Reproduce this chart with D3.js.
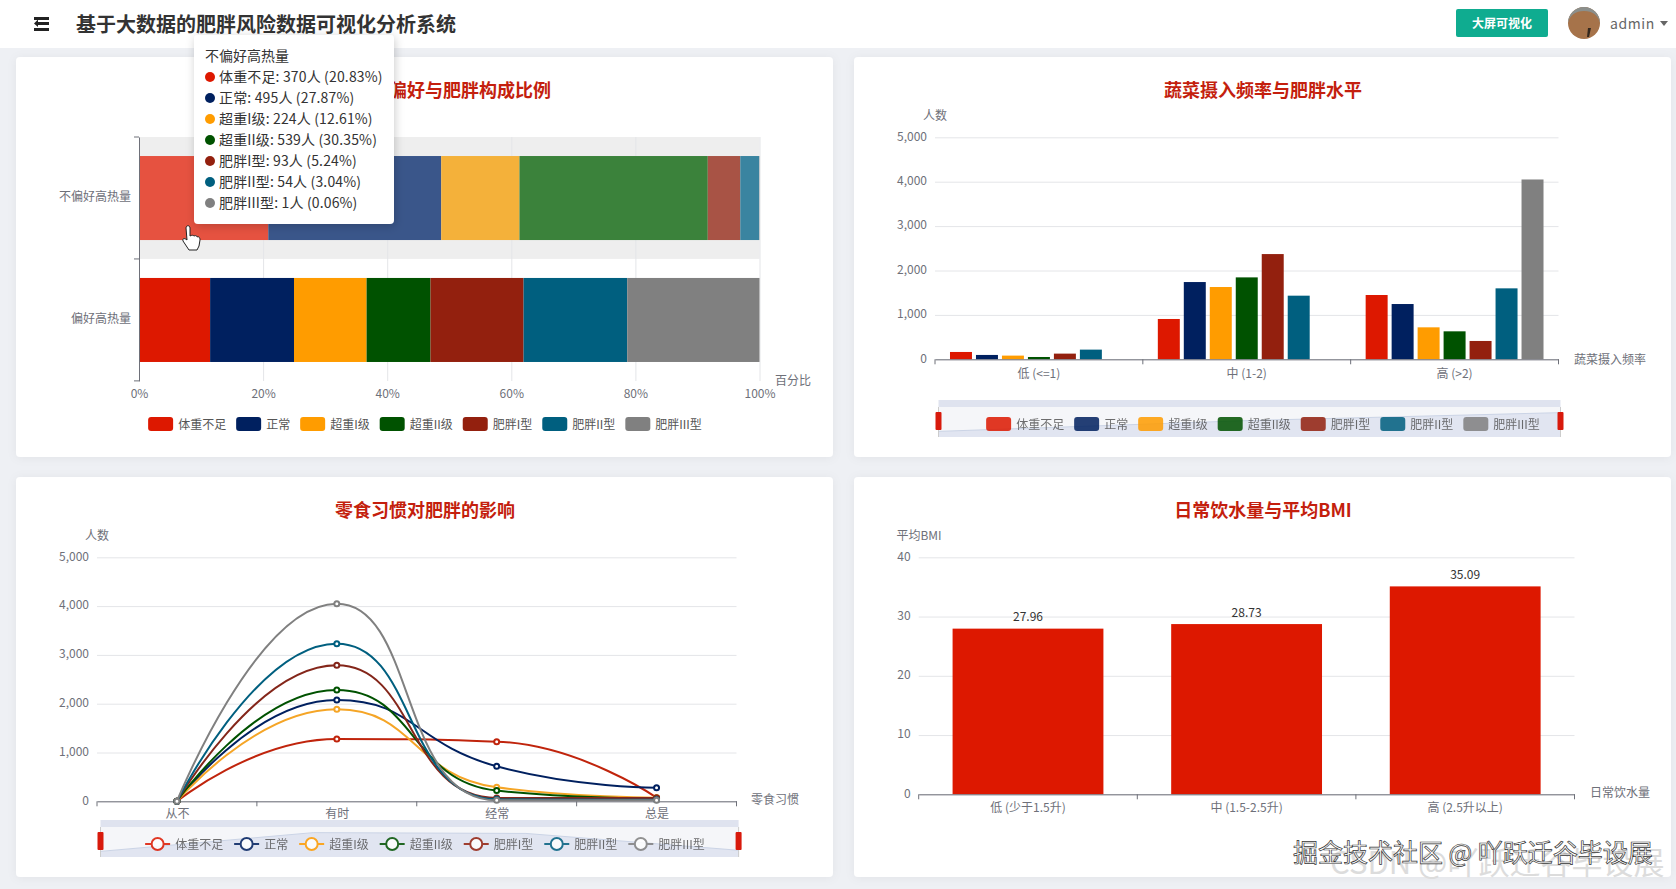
<!DOCTYPE html>
<html>
<head>
<meta charset="utf-8">
<title>肥胖风险数据可视化分析系统</title>
<script src="https://cdn.jsdelivr.net/npm/d3@7"></script>
<style>
  html, body { margin: 0; padding: 0; background: #eef0f4; overflow: hidden; }
  svg { display: block; }
  text { font-family: "Noto Sans CJK SC", "Noto Sans", sans-serif; transform: translateY(-1px); }
</style>
</head>
<body>
<script>
// Obesity levels, same order in every chart
var levels = ['体重不足', '正常', '超重I级', '超重II级', '肥胖I型', '肥胖II型', '肥胖III型'];
var levelColors = ['#dd1800', '#00205f', '#ff9c00', '#005200', '#93200e', '#005f7f', '#808080'];
var hoverColors = ['#e65240', '#3a568a', '#f4b13a', '#3b823b', '#a85345', '#3a84a0', '#a0a0a0'];
var lineColors = ['#c0240c', '#00205f', '#f5a526', '#005200', '#84261a', '#005f7f', '#808080'];

// Chart 1: high calorie preference, the first row comes from the tooltip
var calorieCats = ['不偏好高热量', '偏好高热量'];
var noPreferCounts = [370, 495, 224, 539, 93, 54, 1];
var preferPercents = [11.46, 13.52, 11.7, 10.3, 15.0, 16.7, 21.32];
var percentTicks = [0, 20, 40, 60, 80, 100];

// Chart 2: vegetable frequency
var vegCats = ['低 (<=1)', '中 (1-2)', '高 (>2)'];
var vegLow = [165, 98, 83, 52, 128, 218, 0];
var vegMid = [908, 1740, 1628, 1845, 2370, 1433, 0];
var vegHigh = [1448, 1245, 720, 630, 413, 1598, 4050];
var countTicks = [0, 1000, 2000, 3000, 4000, 5000];

// Chart 3: snack habit, one list per level
var snackCats = ['从不', '有时', '经常', '总是'];
var snackUnder = [0, 1277, 1222, 75];
var snackNormal = [0, 2076, 717, 280];
var snackOver1 = [0, 1885, 287, 75];
var snackOver2 = [0, 2281, 219, 60];
var snackObese1 = [0, 2787, 68, 68];
var snackObese2 = [0, 3231, 41, 30];
var snackObese3 = [0, 4050, 20, 20];

// Chart 4: water intake
var waterCats = ['低 (少于1.5升)', '中 (1.5-2.5升)', '高 (2.5升以上)'];
var waterBmi = [27.96, 28.73, 35.09];
var bmiTicks = [0, 10, 20, 30, 40];

var width = 1676;
var height = 889;
var axisGrey = '#6e7079';
var gridGrey = '#e4e5e8';
var titleRed = '#c41f0e';

var svg = d3.select('body').append('svg')
  .attr('width', width)
  .attr('height', height);

var defs = svg.append('defs');
defs.append('filter').attr('id', 'cardShadow')
  .attr('x', '-5%').attr('y', '-5%').attr('width', '110%').attr('height', '110%')
  .append('feDropShadow')
  .attr('dx', 0).attr('dy', 1).attr('stdDeviation', 5)
  .attr('flood-color', '#000').attr('flood-opacity', 0.05);
defs.append('filter').attr('id', 'tipShadow')
  .attr('x', '-10%').attr('y', '-10%').attr('width', '120%').attr('height', '120%')
  .append('feDropShadow')
  .attr('dx', 1).attr('dy', 2).attr('stdDeviation', 5)
  .attr('flood-color', '#000').attr('flood-opacity', 0.2);

svg.append('rect').attr('width', width).attr('height', height).attr('fill', '#eef0f4');

// ---- header ----
var header = svg.append('g');
header.append('rect').attr('width', width).attr('height', 48).attr('fill', '#fff');
header.selectAll('rect.menu')
  .data([17, 22, 28])
  .enter().append('rect')
  .attr('class', 'menu')
  .attr('x', function (d, i) { return i == 1 ? 38 : 34; })
  .attr('y', function (d) { return d; })
  .attr('width', function (d, i) { return i == 1 ? 11 : 15; })
  .attr('height', 3)
  .attr('fill', '#222');
header.append('path').attr('d', 'M38,19.5 L34,23.5 L38,27 Z').attr('fill', '#222');
header.append('text')
  .attr('x', 76).attr('y', 24)
  .attr('dominant-baseline', 'central')
  .attr('font-size', 20).attr('font-weight', 700).attr('fill', '#333')
  .text('基于大数据的肥胖风险数据可视化分析系统');
header.append('rect')
  .attr('x', 1456).attr('y', 9).attr('width', 92).attr('height', 28).attr('rx', 2)
  .attr('fill', '#0fac90');
header.append('text')
  .attr('x', 1502).attr('y', 23)
  .attr('text-anchor', 'middle').attr('dominant-baseline', 'central')
  .attr('font-size', 12).attr('font-weight', 700).attr('fill', '#fff')
  .text('大屏可视化');
header.append('circle').attr('cx', 1584).attr('cy', 23).attr('r', 16).attr('fill', '#a6734a');
header.append('path')
  .attr('d', 'M1568,23 A16,16 0 0 1 1600,23 Q1597,11 1584,11 Q1571,11 1568,23 Z')
  .attr('fill', '#8b8f8c');
header.append('path').attr('d', 'M1588,28 L1591,28 L1589,37 L1587,37 Z').attr('fill', '#33271d');
header.append('text')
  .attr('x', 1610).attr('y', 24)
  .attr('dominant-baseline', 'central')
  .attr('font-size', 14).attr('fill', '#666').attr('letter-spacing', 0.6)
  .text('admin');
header.append('path').attr('d', 'M1660,21 L1668,21 L1664,26 Z').attr('fill', '#666');

// ---- shared pieces ----
function addCard(x, y, title) {
  svg.append('rect')
    .attr('x', x).attr('y', y).attr('width', 817).attr('height', 400).attr('rx', 4)
    .attr('fill', '#fff')
    .attr('filter', 'url(#cardShadow)');
  svg.append('text')
    .attr('class', 'chart-title')
    .attr('x', x + 409).attr('y', y + 33)
    .attr('text-anchor', 'middle').attr('dominant-baseline', 'central')
    .attr('font-size', 18).attr('font-weight', 700).attr('fill', titleRed)
    .text(title);
}

function axisName(x, y, text, anchor) {
  svg.append('text')
    .attr('x', x).attr('y', y)
    .attr('text-anchor', anchor)
    .attr('dominant-baseline', 'central')
    .attr('font-size', 12).attr('fill', axisGrey)
    .text(text);
}

// value axis on the left, tick lines stretched into grid lines
function valueAxis(scale, ticks, left, right, format) {
  var g = svg.append('g')
    .attr('transform', 'translate(' + left + ',0)')
    .call(d3.axisLeft(scale).tickValues(ticks).tickSize(-(right - left)).tickPadding(8).tickFormat(format));
  g.select('.domain').remove();
  g.selectAll('line').attr('stroke', gridGrey);
  g.selectAll('text').attr('font-size', 12).attr('fill', axisGrey);
  g.attr('font-family', null);
  return g;
}

// category axis at the bottom, ticks on the band edges like the original
function categoryAxis(scale, y, padding) {
  var range = scale.range();
  var n = scale.domain().length;
  var g = svg.append('g')
    .attr('transform', 'translate(0,' + y + ')')
    .call(d3.axisBottom(scale).tickSize(0).tickPadding(padding));
  g.select('.domain').attr('stroke', axisGrey);
  g.selectAll('text').attr('font-size', 12).attr('fill', axisGrey);
  g.attr('font-family', null);
  g.selectAll('line.edge')
    .data(d3.range(n + 1))
    .enter().append('line')
    .attr('class', 'edge')
    .attr('x1', function (i) { return range[0] + i * (range[1] - range[0]) / n; })
    .attr('x2', function (i) { return range[0] + i * (range[1] - range[0]) / n; })
    .attr('y1', 0).attr('y2', 5)
    .attr('stroke', axisGrey);
  return g;
}

// legend laid out from measured text, centred on cx
function addLegend(cx, y, isLine, gap, opacity) {
  var g = svg.append('g').attr('opacity', opacity);
  var items = g.selectAll('g')
    .data(levels)
    .enter().append('g');
  items.append('text')
    .attr('x', 30).attr('y', 0)
    .attr('dominant-baseline', 'central')
    .attr('font-size', 12).attr('fill', '#555')
    .text(function (d) { return d; });
  var x = 0;
  items.each(function (d, i) {
    var item = d3.select(this);
    item.attr('transform', 'translate(' + x + ',' + y + ')');
    if (isLine) {
      item.append('line').attr('x1', 0).attr('x2', 25).attr('y1', 0).attr('y2', 0)
        .attr('stroke', levelColors[i]).attr('stroke-width', 2);
      item.append('circle').attr('cx', 12.5).attr('cy', 0).attr('r', 6)
        .attr('fill', '#fff').attr('stroke', levelColors[i]).attr('stroke-width', 2);
    } else {
      item.append('rect').attr('x', 0).attr('y', -7).attr('width', 25).attr('height', 14).attr('rx', 3)
        .attr('fill', levelColors[i]);
    }
    x += 30 + item.select('text').node().getComputedTextLength() + gap;
  });
  var total = x - gap;
  g.attr('transform', 'translate(' + (cx - total / 2) + ',0)');
}

// dataZoom strip, the shadow follows the first series
function addDataZoom(left, right, top, values) {
  var bandH = 7;
  var areaH = 30;
  var bottom = top + bandH + areaH;
  var g = svg.append('g');
  g.append('rect').attr('x', left).attr('y', top).attr('width', right - left).attr('height', bandH).attr('fill', '#dfe3ef');
  g.append('rect').attr('x', left).attr('y', top + bandH).attr('width', right - left).attr('height', areaH).attr('fill', '#f5f6f9');

  var xShadow = d3.scalePoint().domain(d3.range(values.length)).range([left, right]);
  var lo = d3.min(values);
  var hi = d3.max(values);
  var yShadow = d3.scaleLinear()
    .domain([lo - 0.3 * (hi - lo), hi + 0.3 * (hi - lo)])
    .range([bottom, top + bandH]);
  g.append('path')
    .attr('d', d3.area()
      .x(function (d, i) { return xShadow(i); })
      .y0(bottom)
      .y1(function (d) { return yShadow(d); })(values))
    .attr('fill', '#e1e5f1');
  g.append('path')
    .attr('d', d3.line()
      .x(function (d, i) { return xShadow(i); })
      .y(function (d) { return yShadow(d); })(values))
    .attr('fill', 'none').attr('stroke', '#cbd4e6');

  g.selectAll('line.edge')
    .data([left, right])
    .enter().append('line')
    .attr('class', 'edge')
    .attr('x1', function (d) { return d; }).attr('x2', function (d) { return d; })
    .attr('y1', top + bandH).attr('y2', bottom)
    .attr('stroke', '#ccc');
  g.selectAll('rect.handle')
    .data([left, right])
    .enter().append('rect')
    .attr('class', 'handle')
    .attr('x', function (d) { return d - 3; })
    .attr('y', top + 12).attr('width', 6).attr('height', 18).attr('rx', 1)
    .attr('fill', '#d81a0c');
}

function clamp(v, a, b) {
  return Math.max(Math.min(v, Math.max(a, b)), Math.min(a, b));
}

// d3 curve that bends like the smooth lines of the original chart
function softCurve(context) {
  var pts = [];
  return {
    areaStart: function () {},
    areaEnd: function () {},
    lineStart: function () { pts = []; },
    point: function (x, y) { pts.push([+x, +y]); },
    lineEnd: function () {
      var smooth = 0.5;
      var cp0 = pts[0];
      context.moveTo(pts[0][0], pts[0][1]);
      for (var i = 1; i < pts.length; i++) {
        var prev = pts[i - 1];
        var cur = pts[i];
        var next = pts[i + 1];
        var cp1 = cur;
        var nextCp0 = cur;
        if (next) {
          var lenPrev = Math.hypot(cur[0] - prev[0], cur[1] - prev[1]);
          var lenNext = Math.hypot(next[0] - cur[0], next[1] - cur[1]);
          var ratio = lenNext / (lenNext + lenPrev);
          var nx = clamp(cur[0] + (next[0] - prev[0]) * smooth * ratio, next[0], cur[0]);
          var ny = clamp(cur[1] + (next[1] - prev[1]) * smooth * ratio, next[1], cur[1]);
          cp1 = [
            clamp(cur[0] - (nx - cur[0]) * lenPrev / lenNext, prev[0], cur[0]),
            clamp(cur[1] - (ny - cur[1]) * lenPrev / lenNext, prev[1], cur[1])
          ];
          nextCp0 = [
            cur[0] + (cur[0] - cp1[0]) * lenNext / lenPrev,
            cur[1] + (cur[1] - cp1[1]) * lenNext / lenPrev
          ];
        }
        context.bezierCurveTo(cp0[0], cp0[1], cp1[0], cp1[1], cur[0], cur[1]);
        cp0 = nextCp0;
      }
    }
  };
}

// ---- chart 1: stacked percent bars ----
addCard(16, 57, '高热量食物偏好与肥胖构成比例');

var noPreferTotal = d3.sum(noPreferCounts);
var calorieRows = calorieCats.map(function (cat, r) {
  var row = { cat: cat };
  levels.forEach(function (level, i) {
    row[level] = r == 0 ? noPreferCounts[i] / noPreferTotal * 100 : preferPercents[i];
  });
  return row;
});
var calorieStack = d3.stack().keys(levels)(calorieRows);

var xPct = d3.scaleLinear().domain([0, 100]).range([139, 759.5]);
var yCal = d3.scaleBand().domain(calorieCats).range([137, 381]).paddingInner(0.311).paddingOuter(0.156);
var calStep = yCal.step();

// hover band under the first row
svg.append('rect')
  .attr('x', xPct(0)).attr('y', yCal.range()[0])
  .attr('width', xPct(100) - xPct(0)).attr('height', calStep)
  .attr('fill', '#eee');

var xPctAxis = svg.append('g')
  .attr('transform', 'translate(0,381)')
  .call(d3.axisBottom(xPct).tickValues(percentTicks).tickSize(-244).tickPadding(9)
    .tickFormat(function (d) { return d + '%'; }));
xPctAxis.select('.domain').remove();
xPctAxis.selectAll('line').attr('stroke', gridGrey);
xPctAxis.selectAll('text').attr('font-size', 12).attr('fill', axisGrey);
xPctAxis.attr('font-family', null);

svg.append('g').selectAll('g')
  .data(calorieStack)
  .enter().append('g')
  .each(function (layer, i) {
    d3.select(this).selectAll('rect')
      .data(layer)
      .enter().append('rect')
      .attr('x', function (d) { return xPct(d[0]); })
      .attr('y', function (d) { return yCal(d.data.cat); })
      .attr('width', function (d) { return xPct(d[1]) - xPct(d[0]); })
      .attr('height', yCal.bandwidth())
      .attr('fill', function (d) { return d.data.cat == calorieCats[0] ? hoverColors[i] : levelColors[i]; });
  });

var yCalAxis = svg.append('g')
  .attr('transform', 'translate(139,0)')
  .call(d3.axisLeft(yCal).tickSize(0).tickPadding(8));
yCalAxis.select('.domain').attr('stroke', axisGrey);
yCalAxis.selectAll('text').attr('font-size', 12).attr('fill', axisGrey);
yCalAxis.attr('font-family', null);
yCalAxis.selectAll('line.edge')
  .data(d3.range(calorieCats.length + 1))
  .enter().append('line')
  .attr('class', 'edge')
  .attr('x1', -5).attr('x2', 0)
  .attr('y1', function (i) { return 137 + i * calStep; })
  .attr('y2', function (i) { return 137 + i * calStep; })
  .attr('stroke', axisGrey);

axisName(775, 380, '百分比', 'start');
addLegend(425, 424, false, 10, 1);

// ---- chart 2: grouped bars ----
addCard(854, 57, '蔬菜摄入频率与肥胖水平');

var vegRows = [vegLow, vegMid, vegHigh];
var xVeg = d3.scaleBand().domain(vegCats).range([935, 1558.5]);
var xVegLevel = d3.scaleBand().domain(levels).range([0, xVeg.bandwidth()]).paddingInner(0.154).paddingOuter(0.577);
var yVeg = d3.scaleLinear().domain([0, 5000]).range([359.3, 137.3]);

valueAxis(yVeg, countTicks, 935, 1558.5, d3.format(','));

svg.append('g').selectAll('g')
  .data(vegRows)
  .enter().append('g')
  .attr('transform', function (d, i) { return 'translate(' + xVeg(vegCats[i]) + ',0)'; })
  .selectAll('rect')
  .data(function (row) { return row; })
  .enter().append('rect')
  .attr('x', function (d, i) { return xVegLevel(levels[i]); })
  .attr('y', function (d) { return yVeg(d); })
  .attr('width', xVegLevel.bandwidth())
  .attr('height', function (d) { return yVeg(0) - yVeg(d); })
  .attr('fill', function (d, i) { return levelColors[i]; });

categoryAxis(xVeg, 359.3, 11);
axisName(935, 115, '人数', 'middle');
axisName(1574, 359, '蔬菜摄入频率', 'start');
addDataZoom(938.5, 1560.5, 400, vegRows.map(function (row) { return row[0]; }));
addLegend(1263, 424, false, 10, 0.85);

// ---- chart 3: smooth lines ----
addCard(16, 477, '零食习惯对肥胖的影响');

var snackSeries = [snackUnder, snackNormal, snackOver1, snackOver2, snackObese1, snackObese2, snackObese3];
var xSnack = d3.scalePoint().domain(snackCats).range([97, 736.5]).padding(0.5);
var ySnack = d3.scaleLinear().domain([0, 5000]).range([801.3, 557.3]);
var snackLine = d3.line()
  .x(function (d, i) { return xSnack(snackCats[i]); })
  .y(function (d) { return ySnack(d); })
  .curve(softCurve);

valueAxis(ySnack, countTicks, 97, 736.5, d3.format(','));
categoryAxis(xSnack, 801.3, 9);

svg.append('g').selectAll('g')
  .data(snackSeries)
  .enter().append('g')
  .each(function (values, s) {
    var g = d3.select(this);
    g.append('path')
      .attr('d', snackLine(values))
      .attr('fill', 'none')
      .attr('stroke', lineColors[s])
      .attr('stroke-width', 2);
    g.selectAll('circle')
      .data(values)
      .enter().append('circle')
      .attr('cx', function (d, i) { return xSnack(snackCats[i]); })
      .attr('cy', function (d) { return ySnack(d); })
      .attr('r', 2.5)
      .attr('fill', '#fff')
      .attr('stroke', lineColors[s])
      .attr('stroke-width', 2);
  });

axisName(97, 535, '人数', 'middle');
axisName(751, 799, '零食习惯', 'start');
addDataZoom(100.5, 738.6, 820, snackUnder);
addLegend(425, 844, true, 11, 0.85);

// ---- chart 4: single bars ----
addCard(854, 477, '日常饮水量与平均BMI');

var xWater = d3.scaleBand().domain(waterCats).range([918.7, 1574.5]).paddingInner(0.31).paddingOuter(0.155);
var yWater = d3.scaleLinear().domain([0, 40]).range([794.3, 557.3]);

valueAxis(yWater, bmiTicks, 918.7, 1574.5, d3.format('d'));

svg.append('g').selectAll('rect')
  .data(waterBmi)
  .enter().append('rect')
  .attr('x', function (d, i) { return xWater(waterCats[i]); })
  .attr('y', function (d) { return yWater(d); })
  .attr('width', xWater.bandwidth())
  .attr('height', function (d) { return yWater(0) - yWater(d); })
  .attr('fill', levelColors[0]);

svg.append('g').selectAll('text')
  .data(waterBmi)
  .enter().append('text')
  .attr('x', function (d, i) { return xWater(waterCats[i]) + xWater.bandwidth() / 2; })
  .attr('y', function (d) { return yWater(d) - 12; })
  .attr('text-anchor', 'middle').attr('dominant-baseline', 'central')
  .attr('font-size', 12).attr('fill', '#333')
  .text(function (d) { return d3.format('.2f')(d); });

categoryAxis(xWater, 794.3, 10);
axisName(919, 535, '平均BMI', 'middle');
axisName(1590, 792, '日常饮水量', 'start');

// ---- tooltip on chart 1 ----
var tip = svg.append('g');
tip.append('rect')
  .attr('x', 194).attr('y', 35).attr('width', 200).attr('height', 189).attr('rx', 4)
  .attr('fill', '#fff')
  .attr('filter', 'url(#tipShadow)');
tip.append('text')
  .attr('x', 205).attr('y', 56)
  .attr('dominant-baseline', 'central')
  .attr('font-size', 14).attr('fill', '#333')
  .text(calorieCats[0]);
var tipRows = tip.selectAll('g')
  .data(noPreferCounts)
  .enter().append('g')
  .attr('transform', function (d, i) { return 'translate(0,' + (77 + i * 21) + ')'; });
tipRows.append('circle')
  .attr('cx', 210).attr('cy', 0).attr('r', 5)
  .attr('fill', function (d, i) { return levelColors[i]; });
tipRows.append('text')
  .attr('x', 219).attr('y', 0)
  .attr('dominant-baseline', 'central')
  .attr('font-size', 14).attr('fill', '#333').attr('letter-spacing', 0.15)
  .text(function (d, i) {
    return levels[i] + ': ' + d + '人 (' + d3.format('.2f')(d / noPreferTotal * 100) + '%)';
  });

// mouse pointer left in the screenshot
svg.append('path')
  .attr('d', 'M186,228 C186,225 190,225 190,228 L190,236 C192,235 193,235 194,236 C196,235 197,236 197,237 C199,236 200,238 200,240 L199,246 L197,250 L189,250 L183,241 C182,238 185,238 187,240 Z')
  .attr('fill', '#fff').attr('stroke', '#222').attr('stroke-width', 1);

// ---- watermarks ----
svg.append('text')
  .attr('x', 1330).attr('y', 861)
  .attr('dominant-baseline', 'central')
  .attr('font-size', 31).attr('fill', '#dcdcdc')
  .text('CSDN @吖跃迁谷毕设展');
svg.append('text')
  .attr('x', 1293).attr('y', 852)
  .attr('dominant-baseline', 'central')
  .attr('font-size', 25).attr('fill', '#fff')
  .attr('stroke', '#333').attr('stroke-width', 0.7)
  .text('掘金技术社区 @ 吖跃迁谷毕设展');
</script>
</body>
</html>
